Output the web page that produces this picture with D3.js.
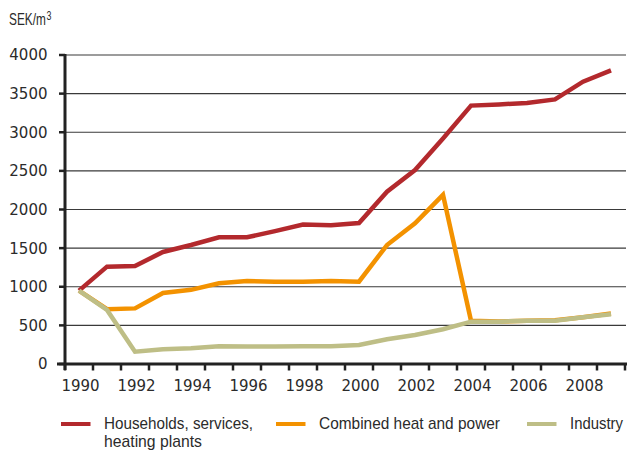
<!DOCTYPE html>
<html><head><meta charset="utf-8">
<script src="https://cdn.jsdelivr.net/npm/d3@7"></script>
<style>body{margin:0;background:#fff}text{font-family:"Liberation Sans",Arial,sans-serif;fill:#2b2b2b}</style>
</head><body><svg id="c" width="629" height="450"></svg>
<script>
const years = d3.range(1990, 2010);
const tickYears = [1990,1992,1994,1996,1998,2000,2002,2004,2006,2008];
const yTicks = [0,500,1000,1500,2000,2500,3000,3500,4000];
const households = [950,1260,1270,1450,1540,1640,1640,1720,1805,1795,1825,2230,2510,2920,3345,3360,3380,3425,3655,3800];
const chp = [950,710,720,920,960,1045,1075,1065,1065,1075,1065,1540,1820,2190,560,550,560,565,605,655];
const industry = [950,700,160,190,205,230,225,225,230,230,245,320,375,450,548,548,560,560,604,643];
const seriesNames = ["Households, services,\nheating plants","Combined heat and power","Industry"];
const colors = ["#B3292D","#F39200","#BEBE86"];

const svg = d3.select("#c");
const L=65, R=625, T=55, B=364;
const x = d3.scaleBand().domain(years).range([L,R]);
const y = d3.scaleLinear().domain([0,4000]).range([B,T]);
const tickFont = '"DejaVu Sans",sans-serif';

// gridlines
svg.append("g").selectAll("line").data(yTicks.filter(d=>d>0)).join("line")
  .attr("x1",L).attr("x2",R+1).attr("y1",d=>y(d)).attr("y2",d=>y(d))
  .attr("stroke","#3a3a3a").attr("stroke-width",1.1);

// y labels
svg.append("g").selectAll("text").data(yTicks).join("text")
  .attr("x",47.5).attr("y",d=>y(d)).attr("dy","0.36em").attr("text-anchor","end")
  .style("font-family",tickFont).attr("font-size",15).text(d=>d);
svg.append("g").selectAll("line").data(yTicks).join("line")
  .attr("x1",59).attr("x2",L).attr("y1",d=>y(d)).attr("y2",d=>y(d))
  .attr("stroke","#222").attr("stroke-width",2.5);

// unit label
const u = svg.append("text").attr("transform","translate(9,25) scale(0.74,1)").attr("font-size",16);
u.append("tspan").text("SEK/m");
u.append("tspan").attr("font-size",12).attr("dy",-5).attr("dx",1).text("3");

// lines
const line = d3.line().x((d,i)=>x(years[i])+x.bandwidth()/2).y(d=>y(d));
[chp, households, industry].forEach((s,k)=>{
  const ci = [1,0,2][k];
  svg.append("path").attr("d",line(s)).attr("fill","none")
    .attr("stroke",colors[ci]).attr("stroke-width",4.5).attr("stroke-linejoin","miter");
});

// axes
svg.append("line").attr("x1",L).attr("x2",L).attr("y1",T-1).attr("y2",B+6)
  .attr("stroke","#222").attr("stroke-width",3);
svg.append("line").attr("x1",57).attr("x2",R+2).attr("y1",B).attr("y2",B)
  .attr("stroke","#222").attr("stroke-width",3);
const bt = d3.range(0, years.length+1).map(i=>L + i*x.bandwidth());
svg.append("g").selectAll("line").data(bt).join("line")
  .attr("x1",d=>d).attr("x2",d=>d).attr("y1",B).attr("y2",B+6.5)
  .attr("stroke","#222").attr("stroke-width",2.5);
svg.append("g").selectAll("text").data(tickYears).join("text")
  .attr("x",d=>x(d)+x.bandwidth()/2+1.5).attr("y",391).attr("text-anchor","middle")
  .style("font-family",tickFont).attr("font-size",15).text(d=>d);

// legend
const lg = [{x:61,tx:104,w:[149,98]},{x:276,tx:319,w:[181]},{x:527,tx:570,w:[53]}];
lg.forEach((p,i)=>{
  svg.append("line").attr("x1",p.x).attr("x2",p.x+29.5).attr("y1",424).attr("y2",424)
    .attr("stroke",colors[i]).attr("stroke-width",4);
  const t = svg.append("text").attr("x",p.tx).attr("y",429).attr("font-size",17);
  seriesNames[i].split("\n").forEach((s,j)=>{
    t.append("tspan").attr("x",p.tx).attr("dy",j?18:0)
      .attr("textLength",p.w[j]).attr("lengthAdjust","spacingAndGlyphs").text(s);
  });
});
</script></body></html>
